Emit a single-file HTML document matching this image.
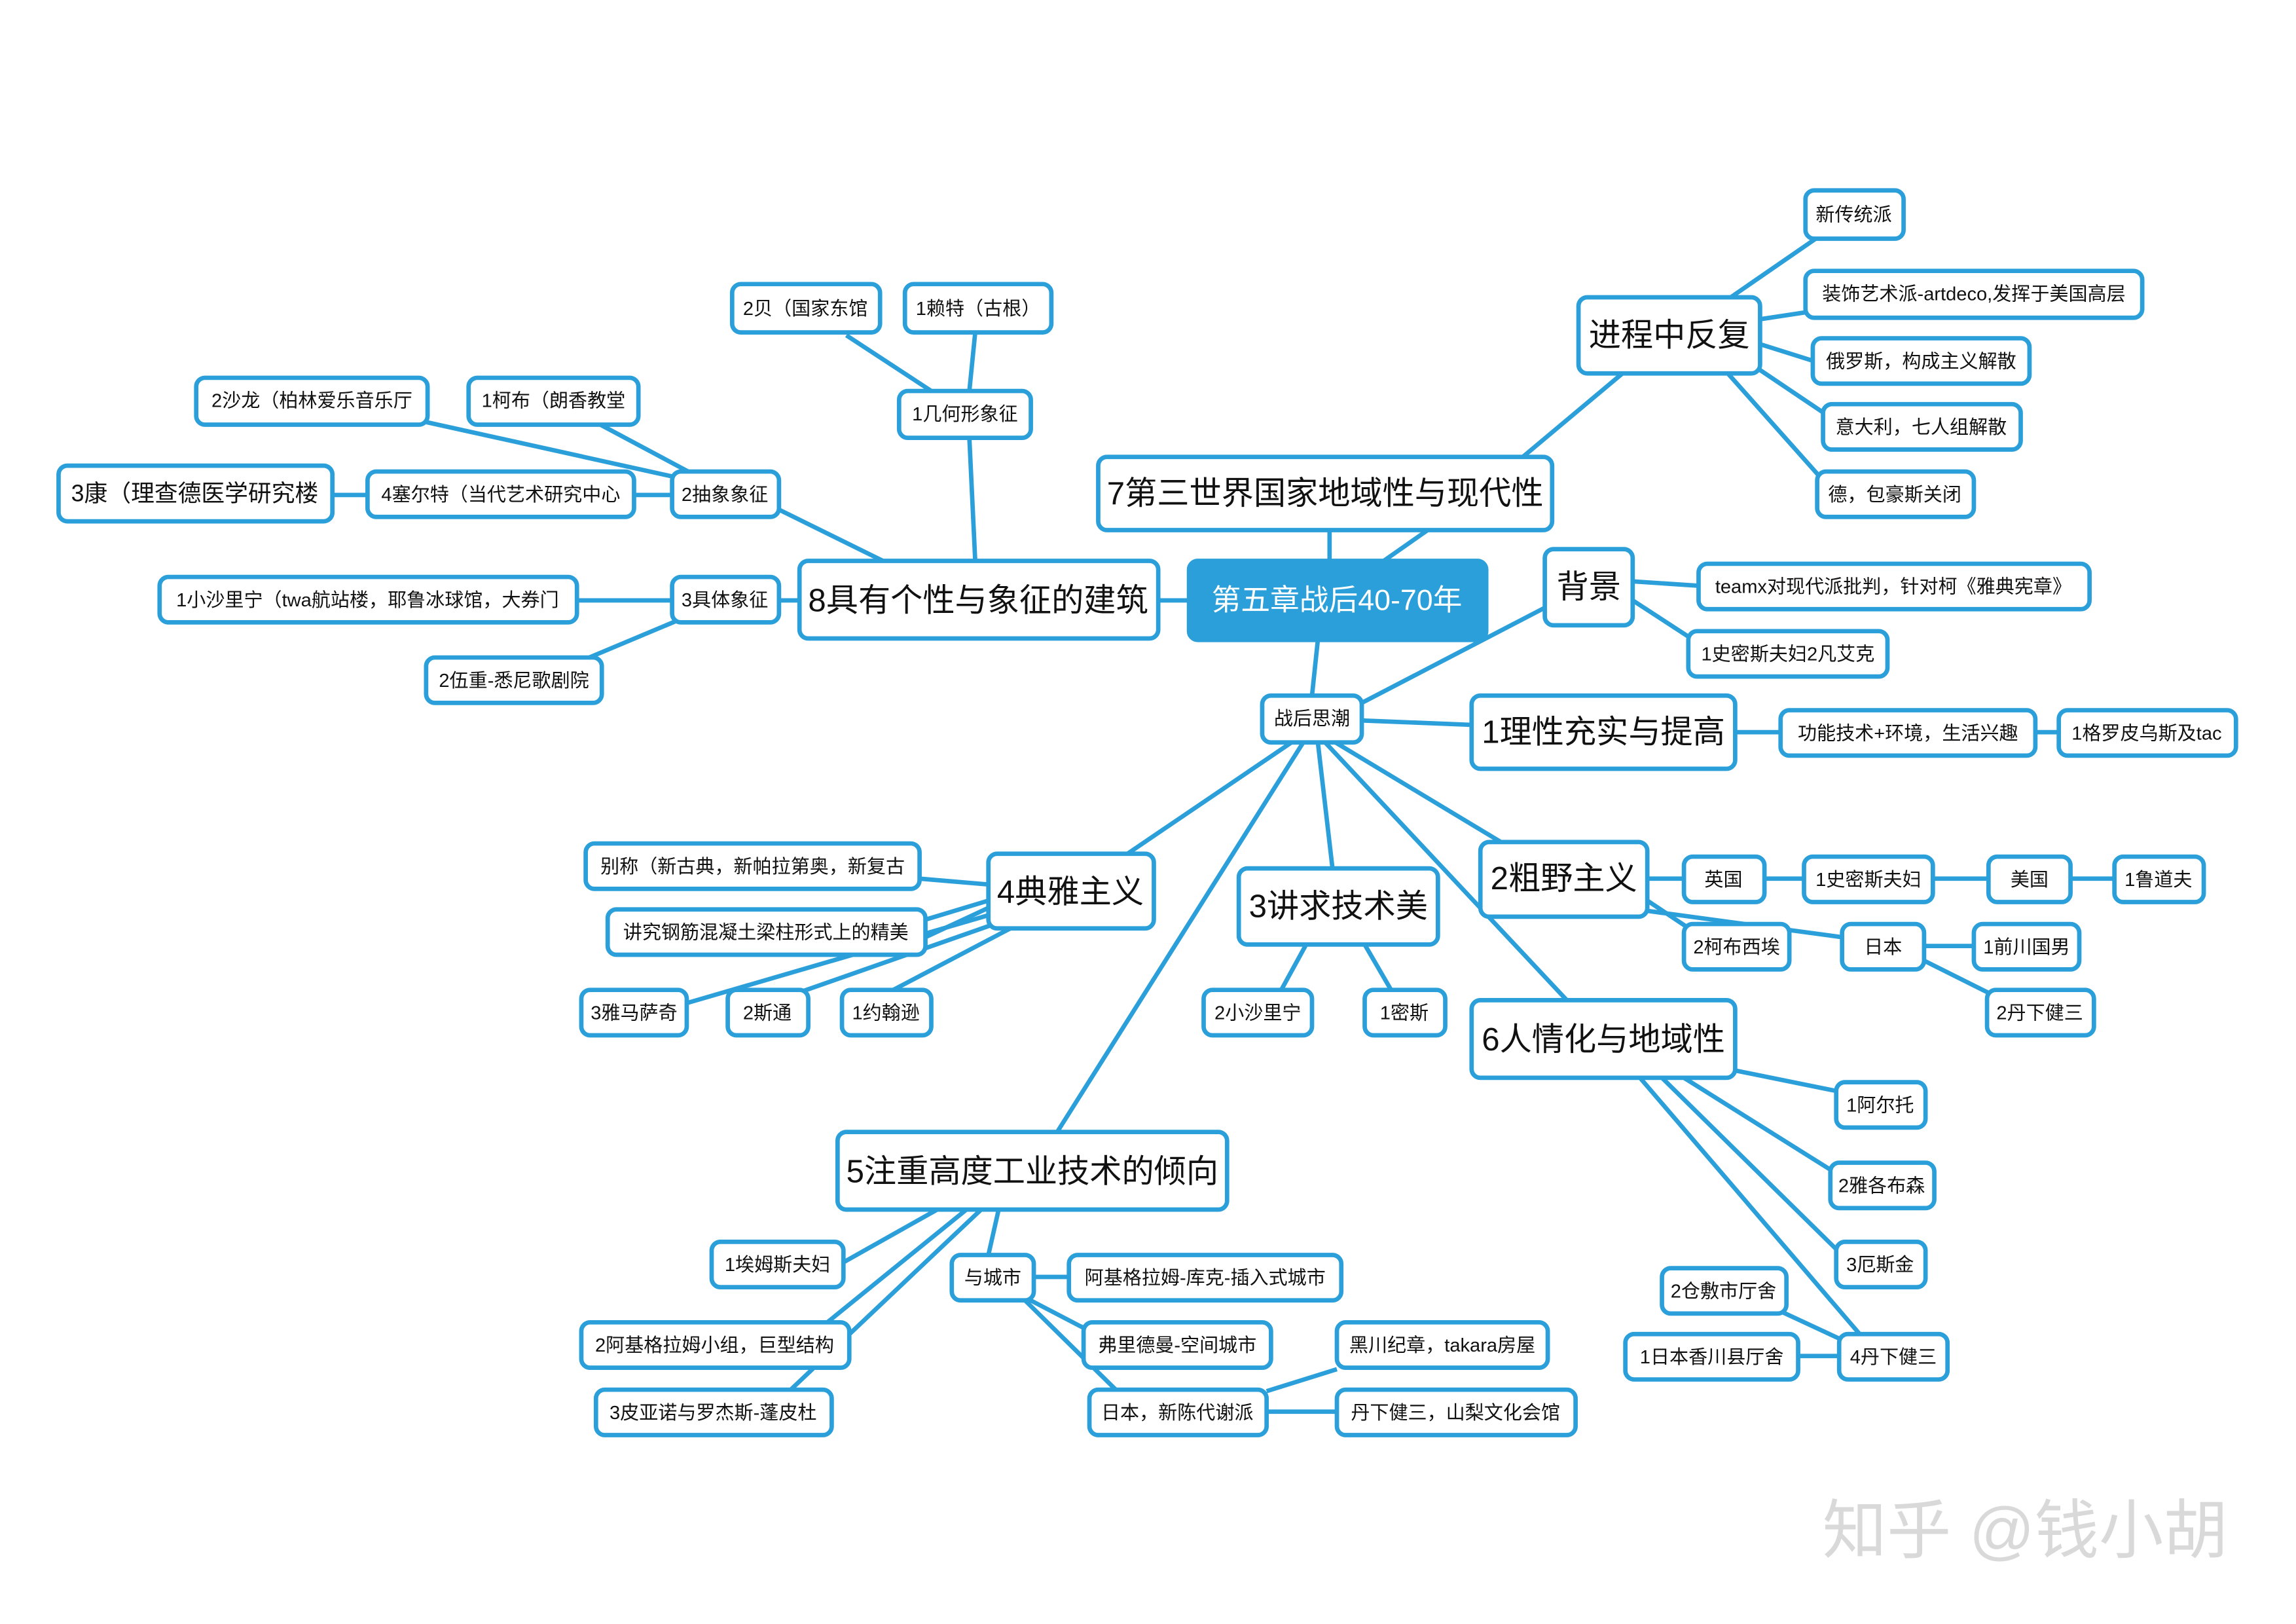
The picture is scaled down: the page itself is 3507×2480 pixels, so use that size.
<!DOCTYPE html>
<html><head><meta charset="utf-8"><style>
html,body{margin:0;padding:0;background:#fff;}
svg{display:block;}
text{font-family:"Liberation Sans","Noto Sans CJK SC",sans-serif;dominant-baseline:central;text-anchor:middle;fill:#111;}
.b{fill:#fff;stroke:#2b9fd9;stroke-width:3;}
.l{stroke:#2b9fd9;stroke-width:3;fill:none;}
</style></head><body>
<svg width="3507" height="2480" viewBox="0 0 1568 1109" preserveAspectRatio="none" xmlns="http://www.w3.org/2000/svg">
<rect width="1568" height="1109" fill="#fff"/>
<g class="l">
<line x1="900" y1="437" x2="896" y2="475"/>
<line x1="908" y1="383" x2="908" y2="362"/>
<line x1="945" y1="383" x2="975" y2="362"/>
<line x1="1055" y1="415" x2="930" y2="480"/>
<line x1="1040" y1="312" x2="1108" y2="255"/>
<line x1="1182" y1="203" x2="1240" y2="163"/>
<line x1="1202" y1="218" x2="1235" y2="213"/>
<line x1="1202" y1="235" x2="1240" y2="247"/>
<line x1="1198" y1="250" x2="1250" y2="285"/>
<line x1="1180" y1="255" x2="1245" y2="328"/>
<line x1="1115" y1="397" x2="1160" y2="400"/>
<line x1="1115" y1="410" x2="1155" y2="436"/>
<line x1="930" y1="492" x2="1005" y2="495"/>
<line x1="1185" y1="500" x2="1216" y2="500"/>
<line x1="1390" y1="500" x2="1406" y2="500"/>
<line x1="912" y1="507" x2="1025" y2="575"/>
<line x1="905" y1="507" x2="1070" y2="683"/>
<line x1="900" y1="507" x2="910" y2="593"/>
<line x1="882" y1="507" x2="770" y2="583"/>
<line x1="890" y1="507" x2="722" y2="773"/>
<line x1="1125" y1="600" x2="1150" y2="600"/>
<line x1="1205" y1="600" x2="1232" y2="600"/>
<line x1="1320" y1="600" x2="1358" y2="600"/>
<line x1="1414" y1="600" x2="1444" y2="600"/>
<line x1="1125" y1="615" x2="1152" y2="633"/>
<line x1="1125" y1="622" x2="1258" y2="640"/>
<line x1="1314" y1="646" x2="1348" y2="646"/>
<line x1="1314" y1="656" x2="1362" y2="680"/>
<line x1="892" y1="645" x2="875" y2="676"/>
<line x1="932" y1="645" x2="950" y2="676"/>
<line x1="1180" y1="730" x2="1254" y2="745"/>
<line x1="1150" y1="736" x2="1252" y2="800"/>
<line x1="1135" y1="736" x2="1256" y2="855"/>
<line x1="1120" y1="736" x2="1270" y2="911"/>
<line x1="1215" y1="895" x2="1258" y2="915"/>
<line x1="1228" y1="926" x2="1256" y2="926"/>
<line x1="628" y1="600" x2="675" y2="604"/>
<line x1="632" y1="628" x2="675" y2="615"/>
<line x1="632" y1="640" x2="675" y2="620"/>
<line x1="469" y1="685" x2="675" y2="625"/>
<line x1="545" y1="678" x2="682" y2="630"/>
<line x1="610" y1="676" x2="690" y2="634"/>
<line x1="576" y1="862" x2="640" y2="826"/>
<line x1="565" y1="903" x2="660" y2="826"/>
<line x1="540" y1="949" x2="670" y2="826"/>
<line x1="682" y1="826" x2="675" y2="857"/>
<line x1="706" y1="872" x2="730" y2="872"/>
<line x1="700" y1="886" x2="750" y2="912"/>
<line x1="700" y1="888" x2="762" y2="949"/>
<line x1="865" y1="950" x2="913" y2="935"/>
<line x1="865" y1="964" x2="913" y2="964"/>
<line x1="791" y1="410" x2="812" y2="410"/>
<line x1="532" y1="410" x2="546" y2="410"/>
<line x1="532" y1="348" x2="603" y2="383"/>
<line x1="662" y1="299" x2="666" y2="383"/>
<line x1="578" y1="229" x2="636" y2="267"/>
<line x1="666" y1="227" x2="662" y2="267"/>
<line x1="290" y1="288" x2="462" y2="326"/>
<line x1="410" y1="290" x2="470" y2="322"/>
<line x1="433" y1="338" x2="459" y2="338"/>
<line x1="227" y1="338" x2="251" y2="338"/>
<line x1="394" y1="410" x2="459" y2="410"/>
<line x1="400" y1="450" x2="462" y2="424"/>
</g>
<rect x="812" y="383" width="203" height="54" rx="6" fill="#2b9fd9" stroke="#2b9fd9" stroke-width="3"/>
<text x="913" y="410" font-size="20" style="fill:#fff">第五章战后40-70年</text>
<g font-size="13">
<rect class="b" x="750" y="312" width="310" height="50" rx="6"/><text x="905" y="337" font-size="22">7第三世界国家地域性与现代性</text>
<rect class="b" x="1078" y="203" width="124" height="52" rx="6"/><text x="1140" y="229" font-size="22">进程中反复</text>
<rect class="b" x="1233" y="130" width="67" height="33" rx="6"/><text x="1266" y="147" font-size="13">新传统派</text>
<rect class="b" x="1233" y="185" width="230" height="32" rx="6"/><text x="1348" y="201" font-size="13">装饰艺术派-artdeco,发挥于美国高层</text>
<rect class="b" x="1238" y="231" width="148" height="31" rx="6"/><text x="1312" y="247" font-size="13">俄罗斯，构成主义解散</text>
<rect class="b" x="1245" y="276" width="135" height="31" rx="6"/><text x="1312" y="292" font-size="13">意大利，七人组解散</text>
<rect class="b" x="1241" y="322" width="107" height="31" rx="6"/><text x="1294" y="338" font-size="13">德，包豪斯关闭</text>
<rect class="b" x="1055" y="375" width="60" height="52" rx="6"/><text x="1085" y="401" font-size="22">背景</text>
<rect class="b" x="1160" y="385" width="267" height="31" rx="6"/><text x="1293" y="401" font-size="13">teamx对现代派批判，针对柯《雅典宪章》</text>
<rect class="b" x="1153" y="431" width="136" height="31" rx="6"/><text x="1221" y="447" font-size="13">1史密斯夫妇2凡艾克</text>
<rect class="b" x="862" y="475" width="68" height="32" rx="6"/><text x="896" y="491" font-size="13">战后思潮</text>
<rect class="b" x="1005" y="475" width="180" height="50" rx="6"/><text x="1095" y="500" font-size="22">1理性充实与提高</text>
<rect class="b" x="1216" y="485" width="174" height="31" rx="6"/><text x="1303" y="501" font-size="13">功能技术+环境，生活兴趣</text>
<rect class="b" x="1406" y="485" width="121" height="31" rx="6"/><text x="1466" y="501" font-size="13">1格罗皮乌斯及tac</text>
<rect class="b" x="1011" y="575" width="114" height="51" rx="6"/><text x="1068" y="600" font-size="22">2粗野主义</text>
<rect class="b" x="1150" y="585" width="55" height="31" rx="6"/><text x="1177" y="601" font-size="13">英国</text>
<rect class="b" x="1232" y="585" width="88" height="31" rx="6"/><text x="1276" y="601" font-size="13">1史密斯夫妇</text>
<rect class="b" x="1358" y="585" width="56" height="31" rx="6"/><text x="1386" y="601" font-size="13">美国</text>
<rect class="b" x="1444" y="585" width="61" height="31" rx="6"/><text x="1474" y="601" font-size="13">1鲁道夫</text>
<rect class="b" x="1150" y="631" width="72" height="31" rx="6"/><text x="1186" y="647" font-size="13">2柯布西埃</text>
<rect class="b" x="1258" y="631" width="56" height="31" rx="6"/><text x="1286" y="647" font-size="13">日本</text>
<rect class="b" x="1348" y="631" width="72" height="31" rx="6"/><text x="1384" y="647" font-size="13">1前川国男</text>
<rect class="b" x="1357" y="676" width="73" height="31" rx="6"/><text x="1393" y="692" font-size="13">2丹下健三</text>
<rect class="b" x="846" y="593" width="136" height="52" rx="6"/><text x="914" y="619" font-size="22">3讲求技术美</text>
<rect class="b" x="822" y="676" width="74" height="31" rx="6"/><text x="859" y="692" font-size="13">2小沙里宁</text>
<rect class="b" x="932" y="676" width="55" height="31" rx="6"/><text x="959" y="692" font-size="13">1密斯</text>
<rect class="b" x="1005" y="683" width="180" height="53" rx="6"/><text x="1095" y="710" font-size="22">6人情化与地域性</text>
<rect class="b" x="1254" y="739" width="61" height="31" rx="6"/><text x="1284" y="755" font-size="13">1阿尔托</text>
<rect class="b" x="1250" y="794" width="71" height="31" rx="6"/><text x="1285" y="810" font-size="13">2雅各布森</text>
<rect class="b" x="1254" y="848" width="61" height="31" rx="6"/><text x="1284" y="864" font-size="13">3厄斯金</text>
<rect class="b" x="1135" y="866" width="85" height="31" rx="6"/><text x="1177" y="882" font-size="13">2仓敷市厅舍</text>
<rect class="b" x="1110" y="911" width="118" height="31" rx="6"/><text x="1169" y="927" font-size="13">1日本香川县厅舍</text>
<rect class="b" x="1256" y="911" width="74" height="31" rx="6"/><text x="1293" y="927" font-size="13">4丹下健三</text>
<rect class="b" x="675" y="583" width="113" height="51" rx="6"/><text x="731" y="609" font-size="22">4典雅主义</text>
<rect class="b" x="400" y="576" width="228" height="31" rx="6"/><text x="514" y="592" font-size="13">别称（新古典，新帕拉第奥，新复古</text>
<rect class="b" x="415" y="621" width="217" height="31" rx="6"/><text x="523" y="637" font-size="13">讲究钢筋混凝土梁柱形式上的精美</text>
<rect class="b" x="397" y="676" width="72" height="31" rx="6"/><text x="433" y="692" font-size="13">3雅马萨奇</text>
<rect class="b" x="497" y="676" width="55" height="31" rx="6"/><text x="524" y="692" font-size="13">2斯通</text>
<rect class="b" x="575" y="676" width="61" height="31" rx="6"/><text x="605" y="692" font-size="13">1约翰逊</text>
<rect class="b" x="572" y="773" width="266" height="53" rx="6"/><text x="705" y="800" font-size="22">5注重高度工业技术的倾向</text>
<rect class="b" x="486" y="848" width="90" height="31" rx="6"/><text x="531" y="864" font-size="13">1埃姆斯夫妇</text>
<rect class="b" x="397" y="903" width="183" height="31" rx="6"/><text x="488" y="919" font-size="13">2阿基格拉姆小组，巨型结构</text>
<rect class="b" x="407" y="949" width="161" height="31" rx="6"/><text x="487" y="965" font-size="13">3皮亚诺与罗杰斯-蓬皮杜</text>
<rect class="b" x="650" y="857" width="56" height="31" rx="6"/><text x="678" y="873" font-size="13">与城市</text>
<rect class="b" x="730" y="857" width="186" height="31" rx="6"/><text x="823" y="873" font-size="13">阿基格拉姆-库克-插入式城市</text>
<rect class="b" x="740" y="903" width="128" height="31" rx="6"/><text x="804" y="919" font-size="13">弗里德曼-空间城市</text>
<rect class="b" x="744" y="949" width="121" height="31" rx="6"/><text x="804" y="965" font-size="13">日本，新陈代谢派</text>
<rect class="b" x="913" y="903" width="144" height="31" rx="6"/><text x="985" y="919" font-size="13">黑川纪章，takara房屋</text>
<rect class="b" x="913" y="949" width="163" height="31" rx="6"/><text x="994" y="965" font-size="13">丹下健三，山梨文化会馆</text>
<rect class="b" x="546" y="383" width="245" height="53" rx="6"/><text x="668" y="410" font-size="22">8具有个性与象征的建筑</text>
<rect class="b" x="500" y="194" width="101" height="33" rx="6"/><text x="550" y="211" font-size="13">2贝（国家东馆</text>
<rect class="b" x="618" y="194" width="100" height="33" rx="6"/><text x="668" y="211" font-size="13">1赖特（古根）</text>
<rect class="b" x="614" y="267" width="90" height="32" rx="6"/><text x="659" y="283" font-size="13">1几何形象征</text>
<rect class="b" x="134" y="258" width="158" height="32" rx="6"/><text x="213" y="274" font-size="13">2沙龙（柏林爱乐音乐厅</text>
<rect class="b" x="320" y="258" width="116" height="32" rx="6"/><text x="378" y="274" font-size="13">1柯布（朗香教堂</text>
<rect class="b" x="40" y="318" width="187" height="38" rx="6"/><text x="133" y="337" font-size="16">3康（理查德医学研究楼</text>
<rect class="b" x="251" y="322" width="182" height="31" rx="6"/><text x="342" y="338" font-size="13">4塞尔特（当代艺术研究中心</text>
<rect class="b" x="459" y="322" width="73" height="31" rx="6"/><text x="495" y="338" font-size="13">2抽象象征</text>
<rect class="b" x="109" y="394" width="285" height="31" rx="6"/><text x="251" y="410" font-size="13">1小沙里宁（twa航站楼，耶鲁冰球馆，大券门</text>
<rect class="b" x="459" y="394" width="73" height="31" rx="6"/><text x="495" y="410" font-size="13">3具体象征</text>
<rect class="b" x="291" y="449" width="120" height="31" rx="6"/><text x="351" y="465" font-size="13">2伍重-悉尼歌剧院</text>
</g>
<text x="1383" y="1045" font-size="44" style="fill:#d9d9d9">知乎 @钱小胡</text>
</svg>
</body></html>
